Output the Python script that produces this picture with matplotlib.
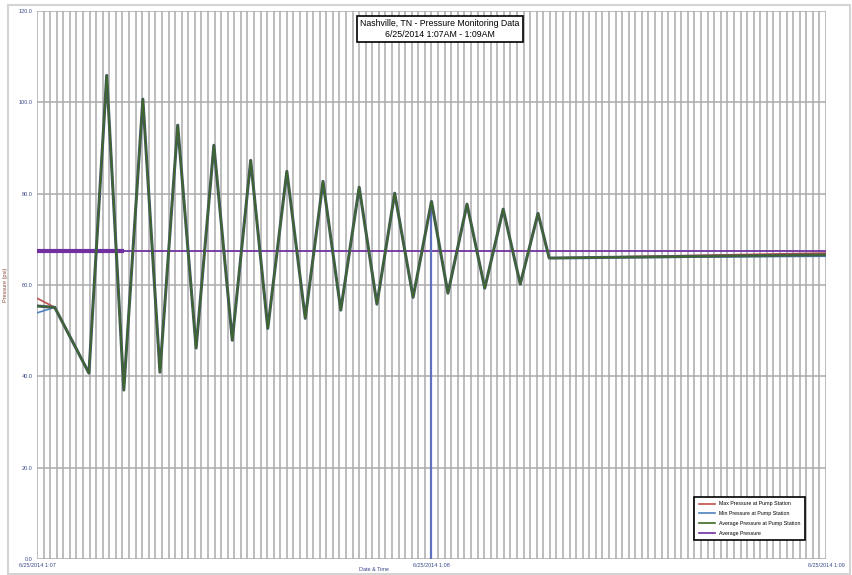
import matplotlib
matplotlib.use('Agg')
import matplotlib.pyplot as plt
import matplotlib.patheffects as pe
from matplotlib.patches import Rectangle

# seconds after 6/25/2014 1:07
wave_time = [0, 2.7, 7.9, 10.6, 13.2, 16.1, 18.7, 21.4, 24.2, 26.9, 29.7, 32.5, 35.1, 38.0, 40.8,
             43.5, 46.2, 49.0, 51.7, 54.4, 57.2, 60.0, 62.5, 65.4, 68.1, 70.9, 73.5, 76.2, 77.9, 120]
avg_station = [55.4, 55.1, 40.7, 105.9, 37.0, 100.7, 40.9, 95.0, 46.2, 90.6, 47.9, 87.3, 50.5, 84.9,
               52.7, 82.7, 54.5, 81.4, 55.8, 80.1, 57.3, 78.3, 58.2, 77.7, 59.3, 76.6, 60.2, 75.7,
               65.9, 66.6]
max_station = [57.1] + avg_station[1:-1] + [67.0]
min_station = [53.9] + avg_station[1:-1] + [66.3]

avg_time = [0, 13, 120]
avg_pressure = [67.5, 67.5, 67.5]

drop_time = [60]
drop_top = [78.3]

y_ticks = [0, 20, 40, 60, 80, 100, 120]
x_ticks = [0, 60, 120]
x_labels = ['6/25/2014 1:07', '6/25/2014 1:08', '6/25/2014 1:09']

plt.rcParams['font.family'] = ['Liberation Sans', 'DejaVu Sans']

fig = plt.figure(figsize=(8.53, 5.75), dpi=100)
ax = fig.add_axes([37 / 853, 1 - 559 / 575, 789 / 853, 548 / 575])

# chart area border
fig.patches.append(Rectangle((8 / 853, 0.002), 842 / 853, 1 - 5 / 575 - 0.002,
                             transform=fig.transFigure, fill=False,
                             edgecolor='#d4d4d4', linewidth=1.5))

ax.set_xlim(0, 120)
ax.set_ylim(0, 120)

# grid: one vertical line per second, horizontal every 20 psi
ax.vlines(range(0, 121), 0, 120, colors='#ababab', linewidth=1.1, zorder=1)
ax.hlines(y_ticks, 0, 120, colors='#ababab', linewidth=1.1, zorder=1)
for s in ax.spines.values():
    s.set_visible(False)

ax.plot(avg_time[:2], avg_pressure[:2], color='#7030a0', linewidth=3, zorder=3)
ax.plot(avg_time, avg_pressure, color='#7030a0', linewidth=1.3, label='Average Pressure', zorder=3)

ax.vlines(drop_time, 0, drop_top, colors='#5f72c0', linewidth=1.6, zorder=4)

ax.plot(wave_time, max_station, color='#c0504d', linewidth=1.2, label='Max Pressure at Pump Station', zorder=4)
ax.plot(wave_time, min_station, color='#4f81bd', linewidth=1.2, label='Min Pressure at Pump Station', zorder=4)
ax.plot(wave_time, avg_station, color='#3d6b22', linewidth=0.8, label='Average Pressure at Pump Station',
        zorder=5, path_effects=[pe.Stroke(linewidth=2.2, foreground='#455a5c'), pe.Normal()])

ax.set_yticks(y_ticks)
ax.set_yticklabels(['%.1f' % v for v in y_ticks], fontsize=4, color='#3b4a8a')
ax.set_xticks(x_ticks)
ax.set_xticklabels(x_labels, fontsize=4, color='#3b4a8a')
ax.tick_params(length=0, pad=3)
ax.set_ylabel('Pressure (psi)', fontsize=4, color='#8a4a3a', labelpad=8)
ax.text(0.427, -0.019, 'Date & Time', transform=ax.transAxes, fontsize=4, color='#3b4a8a',
        ha='center', va='center')

ax.text(0.511, 0.985, 'Nashville, TN - Pressure Monitoring Data\n6/25/2014 1:07AM - 1:09AM',
        transform=ax.transAxes, ha='center', va='top', fontsize=6.3, linespacing=1.3,
        bbox=dict(boxstyle='square,pad=0.35', facecolor='white', edgecolor='black', linewidth=1.2),
        zorder=10)

handles, labels = ax.get_legend_handles_labels()
order = [1, 2, 3, 0]
leg = ax.legend([handles[i] for i in order], [labels[i] for i in order],
                loc='lower right', bbox_to_anchor=(0.977, 0.029), fontsize=3.8,
                handlelength=3, fancybox=False, framealpha=1, borderpad=0.9, labelspacing=0.9)
leg.get_frame().set_edgecolor('black')
leg.get_frame().set_linewidth(1.2)
leg.set_zorder(10)
for line in leg.get_lines():
    line.set_path_effects([])
    line.set_linewidth(1.2)

fig.savefig('out.png', dpi=100)
